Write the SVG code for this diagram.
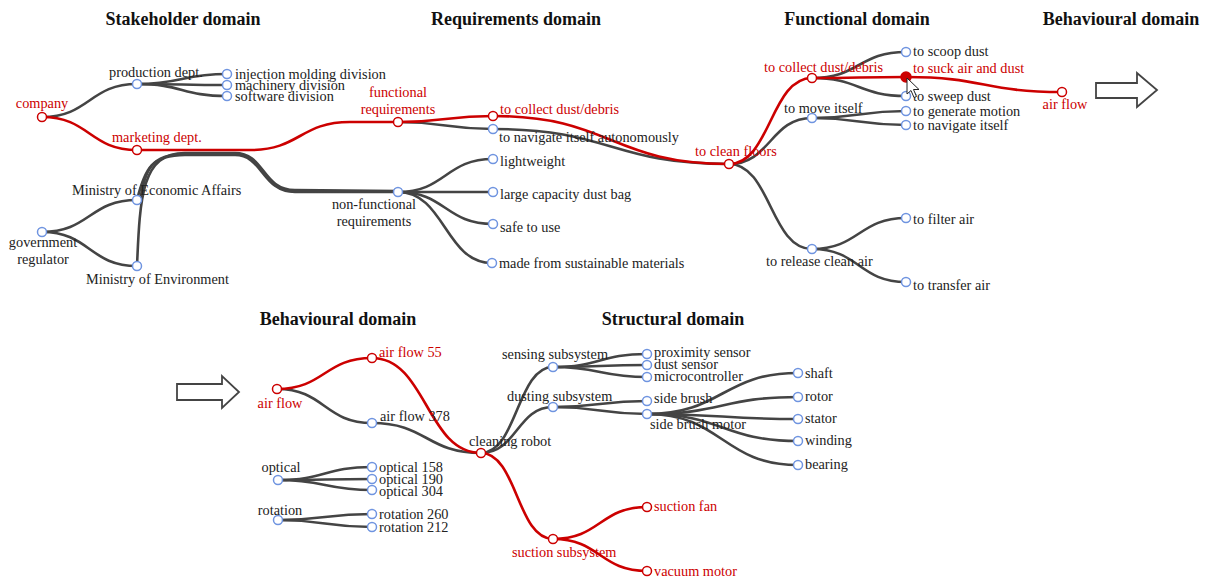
<svg xmlns="http://www.w3.org/2000/svg" width="1207" height="580" viewBox="0 0 1207 580">
<style>
.t{font-family:"Liberation Serif","Times New Roman",serif;font-size:14.3px;fill:#222}
.r{fill:#c00}
.m{text-anchor:middle}
.h{font-family:"Liberation Serif","Times New Roman",serif;font-size:18px;font-weight:bold;fill:#111;text-anchor:middle}
.lk path{fill:none;stroke:#444;stroke-width:2.6}
.lk path.red{stroke:#c00}
circle{fill:#fff;stroke:#6f94e0;stroke-width:1.5}
circle.red{stroke:#c00}
.arrow{fill:#fff;stroke:#444;stroke-width:1.8}
</style>
<rect width="1207" height="580" fill="#fff"/>
<g id="titles">
<text class="h" x="183" y="25">Stakeholder domain</text>
<text class="h" x="516" y="25">Requirements domain</text>
<text class="h" x="857" y="25">Functional domain</text>
<text class="h" x="1121" y="25">Behavioural domain</text>
<text class="h" x="338" y="325">Behavioural domain</text>
<text class="h" x="673" y="325">Structural domain</text>
</g>
<g id="arrows">
<polygon class="arrow" points="1096,83 1137,83 1137,73 1157,90 1137,107 1137,98 1096,98"/>
<polygon class="arrow" points="177,384 222,384 222,376 239,392 222,408 222,400 177,400"/>
</g>
<g id="connectors" class="lk">
<path d="M42,117 C89.5,117 89.5,84 137,84"/>
<path d="M137,84 C182,84 182,74 227,74"/>
<path d="M137,84 C182,84 182,85 227,85"/>
<path d="M137,84 C182,84 182,96 227,96"/>
<path d="M42,232 C89.5,232 89.5,200 137,200"/>
<path d="M42,232 C89.5,232 89.5,266 137,266"/>
<path d="M137,266 C140,195 142,153 185,153 L235,153 C265,153 262,190 295,190 L398,191"/>
<path d="M137,200 C145,168 152,155 185,155 L235,155 C263,155 262,192 295,192 L398,192"/>
<path d="M140,200 C146,170 150,154 185,154 L235,154 C264,154 262,191 295,191 L398,191.5"/>
<path d="M398,122 C445.5,122 445.5,129 493,129"/>
<path d="M398,192 C445.5,192 445.5,159 493,159"/>
<path d="M398,192 C445.5,192 445.5,192 493,192"/>
<path d="M398,192 C445.5,192 445.5,224 493,224"/>
<path d="M398,192 C445,192 445,263 492,263"/>
<path d="M493,129 C611,129 611,164 729,164"/>
<path d="M729,164 C770.5,164 770.5,118 812,118"/>
<path d="M729,164 C770.5,164 770.5,249 812,249"/>
<path d="M812,78 C859,78 859,52 906,52"/>
<path d="M812,78 C859,78 859,96 906,96"/>
<path d="M812,118 C859,118 859,111 906,111"/>
<path d="M812,118 C859,118 859,125 906,125"/>
<path d="M812,249 C859,249 859,218 906,218"/>
<path d="M812,249 C859,249 859,282 906,282"/>
<path d="M277,389 C324.5,389 324.5,423 372,423"/>
<path d="M372,423 C426.5,423 426.5,453 481,453"/>
<path d="M481,453 C517,453 517,367 553,367"/>
<path d="M481,453 C517,453 517,407 553,407"/>
<path d="M553,367 C600,367 600,354 647,354"/>
<path d="M553,367 C600,367 600,365 647,365"/>
<path d="M553,367 C600,367 600,377 647,377"/>
<path d="M553,407 C600,407 600,401 647,401"/>
<path d="M553,407 C600,407 600,414 647,414"/>
<path d="M647,414 C722.5,414 722.5,373 798,373"/>
<path d="M647,414 C722.5,414 722.5,397 798,397"/>
<path d="M647,414 C722.5,414 722.5,419 798,419"/>
<path d="M647,414 C722.5,414 722.5,441 798,441"/>
<path d="M647,414 C722.5,414 722.5,465 798,465"/>
<path d="M278,480 C325,480 325,467 372,467"/>
<path d="M278,480 C325,480 325,479 372,479"/>
<path d="M278,480 C325,480 325,490 372,490"/>
<path d="M278,520 C325,520 325,514 372,514"/>
<path d="M278,520 C325,520 325,527 372,527"/>
<path class="red" d="M42,117 C89.5,117 89.5,150 137,150"/>
<path class="red" d="M137,150 L250,150 C300,150 300,122 350,122 L398,122"/>
<path class="red" d="M398,122 C445.5,122 445.5,116 493,116"/>
<path class="red" d="M493,116 C611,116 611,164 729,164"/>
<path class="red" d="M729,164 C770.5,164 770.5,78 812,78"/>
<path class="red" d="M812,78 C859,78 859,77 906,77"/>
<path class="red" d="M906,77 C984,77 984,92 1062,92"/>
<path class="red" d="M277,389 C324.5,389 324.5,358 372,358"/>
<path class="red" d="M372,358 C426.5,358 426.5,453 481,453"/>
<path class="red" d="M481,453 C517,453 517,539 553,539"/>
<path class="red" d="M553,539 C600,539 600,507 647,507"/>
<path class="red" d="M553,539 C600,539 600,571 647,571"/>
</g>
<g id="stakeholder">
<g id="n-company"><circle class="red" cx="42" cy="117" r="4.5"/><text class="t r m" x="42" y="108">company</text></g>
<g id="n-production"><circle cx="137" cy="84" r="4.5"/><text class="t" x="109" y="77">production dept.</text></g>
<g id="n-injection"><circle cx="227" cy="74" r="4.5"/><text class="t" x="235" y="79">injection molding division</text></g>
<g id="n-machinery"><circle cx="227" cy="85" r="4.5"/><text class="t" x="235" y="90">machinery division</text></g>
<g id="n-software"><circle cx="227" cy="96" r="4.5"/><text class="t" x="235" y="101">software division</text></g>
<g id="n-marketing"><circle class="red" cx="137" cy="150" r="4.5"/><text class="t r" x="112" y="142">marketing dept.</text></g>
<g id="n-government"><circle cx="42" cy="232" r="4.5"/><text class="t m" x="43" y="247">government</text><text class="t m" x="43" y="264">regulator</text></g>
<g id="n-moea"><circle cx="137" cy="200" r="4.5"/><text class="t" x="72" y="195">Ministry of Economic Affairs</text></g>
<g id="n-moe"><circle cx="137" cy="266" r="4.5"/><text class="t" x="86" y="284">Ministry of Environment</text></g>
</g>
<g id="requirements">
<g id="n-fr"><circle class="red" cx="398" cy="122" r="4.5"/><text class="t r m" x="398" y="97">functional</text><text class="t r m" x="398" y="114">requirements</text></g>
<g id="n-collect-r"><circle class="red" cx="493" cy="116" r="4.5"/><text class="t r" x="500" y="114">to collect dust/debris</text></g>
<g id="n-navigate-r"><circle cx="493" cy="129" r="4.5"/><text class="t" x="499" y="142">to navigate itself autonomously</text></g>
<g id="n-nfr"><circle cx="398" cy="192" r="4.5"/><text class="t m" x="374" y="209">non-functional</text><text class="t m" x="374" y="226">requirements</text></g>
<g id="n-light"><circle cx="493" cy="159" r="4.5"/><text class="t" x="500" y="166">lightweight</text></g>
<g id="n-large"><circle cx="493" cy="192" r="4.5"/><text class="t" x="500" y="199">large capacity dust bag</text></g>
<g id="n-safe"><circle cx="493" cy="224" r="4.5"/><text class="t" x="500" y="232">safe to use</text></g>
<g id="n-made"><circle cx="492" cy="263" r="4.5"/><text class="t" x="499" y="268">made from sustainable materials</text></g>
</g>
<g id="functional">
<g id="n-clean"><circle class="red" cx="729" cy="164" r="4.5"/><text class="t r" x="695" y="156">to clean floors</text></g>
<g id="n-collect-f"><circle class="red" cx="812" cy="78" r="4.5"/><text class="t r" x="764" y="72">to collect dust/debris</text></g>
<g id="n-scoop"><circle cx="906" cy="52" r="4.5"/><text class="t" x="913" y="56">to scoop dust</text></g>
<g id="n-suck"><circle cx="906" cy="77" r="5" style="fill:#c00;stroke:#c00"/><text class="t r" x="913" y="73">to suck air and dust</text></g>
<g id="n-sweep"><circle cx="906" cy="96" r="4.5"/><text class="t" x="913" y="101">to sweep dust</text></g>
<g id="n-move"><circle cx="812" cy="118" r="4.5"/><text class="t" x="784" y="113">to move itself</text></g>
<g id="n-generate"><circle cx="906" cy="111" r="4.5"/><text class="t" x="913" y="116">to generate motion</text></g>
<g id="n-navigate-f"><circle cx="906" cy="125" r="4.5"/><text class="t" x="913" y="130">to navigate itself</text></g>
<g id="n-release"><circle cx="812" cy="249" r="4.5"/><text class="t" x="766" y="266">to release clean air</text></g>
<g id="n-filter"><circle cx="906" cy="218" r="4.5"/><text class="t" x="913" y="224">to filter air</text></g>
<g id="n-transfer"><circle cx="906" cy="282" r="4.5"/><text class="t" x="913" y="290">to transfer air</text></g>
</g>
<g id="behavioural-top">
<g id="n-airflow-top"><circle class="red" cx="1062" cy="92" r="4.5"/><text class="t r m" x="1065" y="109">air flow</text></g>
</g>
<g id="behavioural">
<g id="n-airflow"><circle class="red" cx="277" cy="389" r="4.5"/><text class="t r m" x="280" y="408">air flow</text></g>
<g id="n-af55"><circle class="red" cx="372" cy="358" r="4.5"/><text class="t r" x="379" y="357">air flow 55</text></g>
<g id="n-af378"><circle cx="372" cy="423" r="4.5"/><text class="t" x="380" y="421">air flow 378</text></g>
<g id="n-optical"><circle cx="278" cy="480" r="4.5"/><text class="t m" x="281" y="472">optical</text></g>
<g id="n-o158"><circle cx="372" cy="467" r="4.5"/><text class="t" x="379" y="472">optical 158</text></g>
<g id="n-o190"><circle cx="372" cy="479" r="4.5"/><text class="t" x="379" y="484">optical 190</text></g>
<g id="n-o304"><circle cx="372" cy="490" r="4.5"/><text class="t" x="379" y="496">optical 304</text></g>
<g id="n-rotation"><circle cx="278" cy="520" r="4.5"/><text class="t m" x="280" y="515">rotation</text></g>
<g id="n-r260"><circle cx="372" cy="514" r="4.5"/><text class="t" x="379" y="519">rotation 260</text></g>
<g id="n-r212"><circle cx="372" cy="527" r="4.5"/><text class="t" x="379" y="532">rotation 212</text></g>
</g>
<g id="structural">
<g id="n-robot"><circle class="red" cx="481" cy="453" r="4.5"/><text class="t" x="469" y="446">cleaning robot</text></g>
<g id="n-sensing"><circle cx="553" cy="367" r="4.5"/><text class="t" x="502" y="359">sensing subsystem</text></g>
<g id="n-proximity"><circle cx="647" cy="354" r="4.5"/><text class="t" x="654" y="357">proximity sensor</text></g>
<g id="n-dust"><circle cx="647" cy="365" r="4.5"/><text class="t" x="654" y="369">dust sensor</text></g>
<g id="n-micro"><circle cx="647" cy="377" r="4.5"/><text class="t" x="654" y="381">microcontroller</text></g>
<g id="n-dusting"><circle cx="553" cy="407" r="4.5"/><text class="t" x="507" y="401">dusting subsystem</text></g>
<g id="n-sidebrush"><circle cx="647" cy="401" r="4.5"/><text class="t" x="654" y="403">side brush</text></g>
<g id="n-motor"><circle cx="647" cy="414" r="4.5"/><text class="t" x="650" y="429">side brush motor</text></g>
<g id="n-shaft"><circle cx="798" cy="373" r="4.5"/><text class="t" x="805" y="378">shaft</text></g>
<g id="n-rotor"><circle cx="798" cy="397" r="4.5"/><text class="t" x="805" y="401">rotor</text></g>
<g id="n-stator"><circle cx="798" cy="419" r="4.5"/><text class="t" x="805" y="423">stator</text></g>
<g id="n-winding"><circle cx="798" cy="441" r="4.5"/><text class="t" x="805" y="445">winding</text></g>
<g id="n-bearing"><circle cx="798" cy="465" r="4.5"/><text class="t" x="805" y="469">bearing</text></g>
<g id="n-suction"><circle class="red" cx="553" cy="539" r="4.5"/><text class="t r" x="512" y="557">suction subsystem</text></g>
<g id="n-fan"><circle class="red" cx="647" cy="507" r="4.5"/><text class="t r" x="654" y="511">suction fan</text></g>
<g id="n-vacuum"><circle class="red" cx="647" cy="571" r="4.5"/><text class="t r" x="654" y="576">vacuum motor</text></g>
</g>
<g id="cursor">
<polygon points="907,78 907,94 911,90.5 914,97.5 916.5,96.5 913.5,89.5 919,89.5" fill="#fff" stroke="#222" stroke-width="1"/>
</g>
</svg>
